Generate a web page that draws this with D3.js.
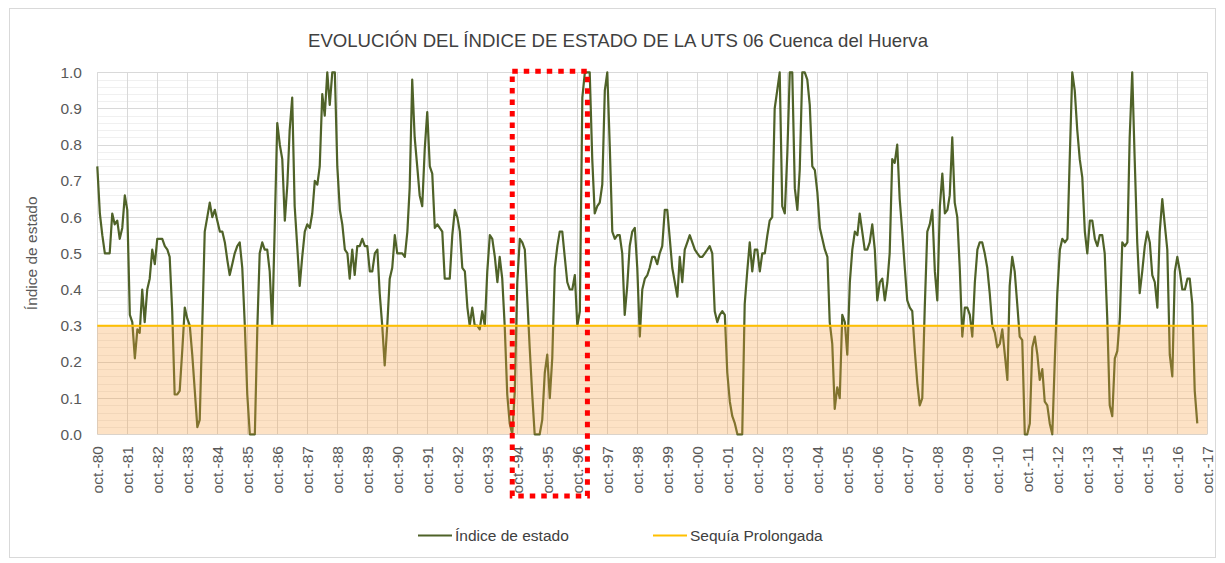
<!DOCTYPE html>
<html>
<head>
<meta charset="utf-8">
<script src="https://cdn.jsdelivr.net/npm/d3@7/dist/d3.min.js"></script>
<style>
  body { margin: 0; background: #fff; }
  svg { font-family: "Liberation Sans", Arial, sans-serif; }
</style>
</head>
<body>
<script>
'use strict';

// monthly state index, one value per month starting oct-80
let indice80s = [
  .74,.61,.55,.50,.50,.50,.61,.58,.59,.54,.57,.66,
  .62,.33,.31,.21,.29,.28,.40,.31,.40,.43,.51,.47,
  .54,.54,.54,.52,.51,.49,.34,.11,.11,.12,.23,.35,
  .32,.30,.22,.12,.02,.04,.30,.56,.60,.64,.60,.62,
  .59,.56,.56,.53,.48,.44,.47,.50,.52,.53,.46,.30,
  .11,0,0,0,.30,.50,.53,.51,.51,.45,.30,.58,
  .86,.80,.76,.59,.69,.84,.93,.63,.52,.41,.49,.56,
  .58,.57,.61,.70,.69,.74,.94,.88,1,.91,1,1,
  .74,.62,.58,.51,.50,.43,.51,.44,.52,.52,.54,.52,
  .52,.45,.45,.50,.51,.39,.30,.19,.30,.43,.46,.55
];
let indice90s = [
  .50,.50,.50,.49,.56,.68,.98,.82,.74,.66,.63,.79,
  .89,.74,.72,.57,.58,.57,.56,.43,.43,.43,.55,.62,
  .60,.56,.46,.45,.35,.30,.35,.30,.30,.29,.34,.30,
  .45,.55,.54,.49,.42,.49,.43,.30,.11,.03,0,.12,
  .42,.54,.53,.51,.37,.24,.11,0,0,0,.04,.17,
  .22,.10,.21,.46,.52,.56,.56,.49,.42,.40,.40,.44,
  .30,.34,.93,1,1,1,.76,.61,.63,.64,.69,.95,
  1,.79,.56,.54,.55,.55,.50,.33,.41,.52,.56,.57,
  .46,.27,.40,.43,.44,.46,.49,.49,.47,.50,.52,.62,
  .62,.54,.46,.42,.38,.49,.42,.51,.53,.55,.53,.51
];
let indice00s = [
  .50,.49,.49,.50,.51,.52,.50,.34,.31,.33,.34,.33,
  .17,.09,.05,.03,0,0,0,.36,.45,.53,.45,.51,
  .51,.45,.50,.50,.55,.59,.60,.90,.95,1,.63,.61,
  .77,1,1,.68,.62,.73,1,1,.98,.91,.74,.73,
  .67,.57,.54,.51,.49,.31,.25,.07,.13,.10,.33,.31,
  .22,.42,.51,.56,.55,.61,.56,.51,.51,.53,.58,.51,
  .37,.42,.43,.37,.42,.50,.76,.75,.80,.65,.56,.46,
  .37,.35,.34,.23,.14,.08,.10,.35,.56,.58,.62,.45,
  .37,.63,.72,.61,.62,.66,.82,.64,.60,.46,.27,.35,
  .35,.33,.27,.42,.51,.53,.53,.50,.46,.39,.30,.28
];
let indice10s = [
  .24,.25,.29,.22,.15,.41,.49,.45,.36,.27,.26,0,
  0,.03,.24,.27,.22,.15,.18,.09,.08,.03,0,.21,
  .39,.51,.54,.53,.54,.76,1,.95,.84,.76,.71,.56,
  .50,.59,.59,.54,.52,.55,.55,.50,.32,.08,.05,.21,
  .23,.32,.53,.52,.53,.82,1,.76,.53,.39,.45,.52,
  .56,.53,.44,.42,.35,.56,.65,.58,.51,.22,.16,.45,
  .49,.45,.40,.40,.43,.43,.36,.12,.03
];

let sequiaProlongada = 0.3;

let yTicks = [0, 0.1, 0.2, 0.3, 0.4, 0.5, 0.6, 0.7, 0.8, 0.9, 1.0];

let xTickLabels = [
  'oct.-80','oct.-81','oct.-82','oct.-83','oct.-84','oct.-85','oct.-86','oct.-87',
  'oct.-88','oct.-89','oct.-90','oct.-91','oct.-92','oct.-93','oct.-94','oct.-95',
  'oct.-96','oct.-97','oct.-98','oct.-99','oct.-00','oct.-01','oct.-02','oct.-03',
  'oct.-04','oct.-05','oct.-06','oct.-07','oct.-08','oct.-09','oct.-10','oct.-11',
  'oct.-12','oct.-13','oct.-14','oct.-15','oct.-16','oct.-17'
];

// highlighted period (red dotted box)
let highlight = [new Date(1994, 7, 1), new Date(1997, 1, 1)];

let title = 'EVOLUCIÓN DEL ÍNDICE DE ESTADO DE LA UTS 06 Cuenca del Huerva';

let chart = function() {
  let width = 1225;
  let height = 563;
  let m = {left: 97.3, right: 1207.3, top: 72.3, bottom: 434.3};

  let values = indice80s.concat(indice90s, indice00s, indice10s);
  let data = values.map(function(v, i) {
    return {date: new Date(1980, 9 + i, 1), value: v};
  });
  let tickDates = xTickLabels.map(function(d, i) { return new Date(1980 + i, 9, 1); });

  let x = d3.scaleTime()
    .domain([tickDates[0], tickDates[tickDates.length - 1]])
    .range([m.left, m.right]);
  let y = d3.scaleLinear().domain([0, 1]).range([m.bottom, m.top]);

  let svg = d3.select('body').append('svg')
    .attr('width', width)
    .attr('height', height);

  svg.append('rect')
    .attr('x', 9.5).attr('y', 8.5)
    .attr('width', 1206).attr('height', 549)
    .attr('fill', '#fff')
    .attr('stroke', '#d9d9d9');

  // minor gridlines
  svg.append('g')
    .selectAll('line')
    .data(d3.range(0, 1.001, 0.02).filter(function(v) { return Math.round(v * 50) % 5 !== 0; }))
    .enter().append('line')
      .attr('x1', m.left).attr('x2', m.right)
      .attr('y1', function(d) { return Math.round(y(d)) + 0.5; })
      .attr('y2', function(d) { return Math.round(y(d)) + 0.5; })
      .attr('stroke', '#f0f0f0');

  // major gridlines
  svg.append('g')
    .selectAll('line')
    .data(yTicks)
    .enter().append('line')
      .attr('x1', m.left).attr('x2', m.right)
      .attr('y1', function(d) { return Math.round(y(d)) + 0.5; })
      .attr('y2', function(d) { return Math.round(y(d)) + 0.5; })
      .attr('stroke', '#d9d9d9');

  svg.append('g')
    .selectAll('line')
    .data(tickDates)
    .enter().append('line')
      .attr('x1', function(d) { return Math.round(x(d)) + 0.5; })
      .attr('x2', function(d) { return Math.round(x(d)) + 0.5; })
      .attr('y1', m.top).attr('y2', m.bottom)
      .attr('stroke', '#d9d9d9');

  let line = d3.line()
    .x(function(d) { return x(d.date); })
    .y(function(d) { return y(d.value); });

  svg.append('path')
    .datum(data)
    .attr('d', line)
    .attr('fill', 'none')
    .attr('stroke', '#4f6228')
    .attr('stroke-width', 2.2)
    .attr('stroke-linejoin', 'round');

  // drought band
  svg.append('rect')
    .attr('x', m.left)
    .attr('y', y(sequiaProlongada))
    .attr('width', m.right - m.left)
    .attr('height', y(0) - y(sequiaProlongada))
    .attr('fill', '#f9a03f')
    .attr('fill-opacity', 0.3);

  svg.append('line')
    .attr('x1', m.left).attr('x2', m.right)
    .attr('y1', y(sequiaProlongada)).attr('y2', y(sequiaProlongada))
    .attr('stroke', '#ffc000')
    .attr('stroke-width', 2);

  // y axis labels
  svg.append('g')
    .selectAll('text')
    .data(yTicks)
    .enter().append('text')
      .attr('x', 82)
      .attr('y', function(d) { return y(d); })
      .attr('dy', '0.35em')
      .attr('text-anchor', 'end')
      .attr('font-size', 15.5)
      .attr('fill', '#595959')
      .text(function(d) { return d.toFixed(1); });

  // x axis labels
  svg.append('g')
    .selectAll('text')
    .data(tickDates)
    .enter().append('text')
      .attr('transform', function(d) {
        return 'translate(' + x(d) + ',' + 446 + ') rotate(-90)';
      })
      .attr('dy', '0.35em')
      .attr('text-anchor', 'end')
      .attr('font-size', 15.5)
      .attr('fill', '#595959')
      .text(function(d, i) { return xTickLabels[i]; });

  svg.append('text')
    .attr('transform', 'translate(32,' + ((m.top + m.bottom) / 2) + ') rotate(-90)')
    .attr('dy', '0.35em')
    .attr('text-anchor', 'middle')
    .attr('font-size', 15.5)
    .attr('fill', '#595959')
    .text('Índice de estado');

  svg.append('text')
    .attr('x', 618).attr('y', 47)
    .attr('text-anchor', 'middle')
    .attr('font-size', 18.6)
    .attr('fill', '#404040')
    .text(title);

  // legend
  let legend = [
    {label: 'Índice de estado', color: '#4f6228', x: 418},
    {label: 'Sequía Prolongada', color: '#ffc000', x: 653}
  ];
  let lg = svg.append('g').selectAll('g')
    .data(legend)
    .enter().append('g')
      .attr('transform', function(d) { return 'translate(' + d.x + ',535.5)'; });
  lg.append('line')
    .attr('x1', 0).attr('x2', 34)
    .attr('stroke', function(d) { return d.color; })
    .attr('stroke-width', 2);
  lg.append('text')
    .attr('x', 37)
    .attr('dy', '0.35em')
    .attr('font-size', 15.5)
    .attr('fill', '#404040')
    .text(function(d) { return d.label; });

  // red dotted highlight box
  svg.append('rect')
    .attr('x', x(highlight[0]))
    .attr('y', y(1) - 1)
    .attr('width', x(highlight[1]) - x(highlight[0]))
    .attr('height', 497 - y(1))
    .attr('fill', 'none')
    .attr('stroke', '#ff0000')
    .attr('stroke-width', 5)
    .attr('stroke-dasharray', '5.5,6');
};

chart();
</script>
</body>
</html>
